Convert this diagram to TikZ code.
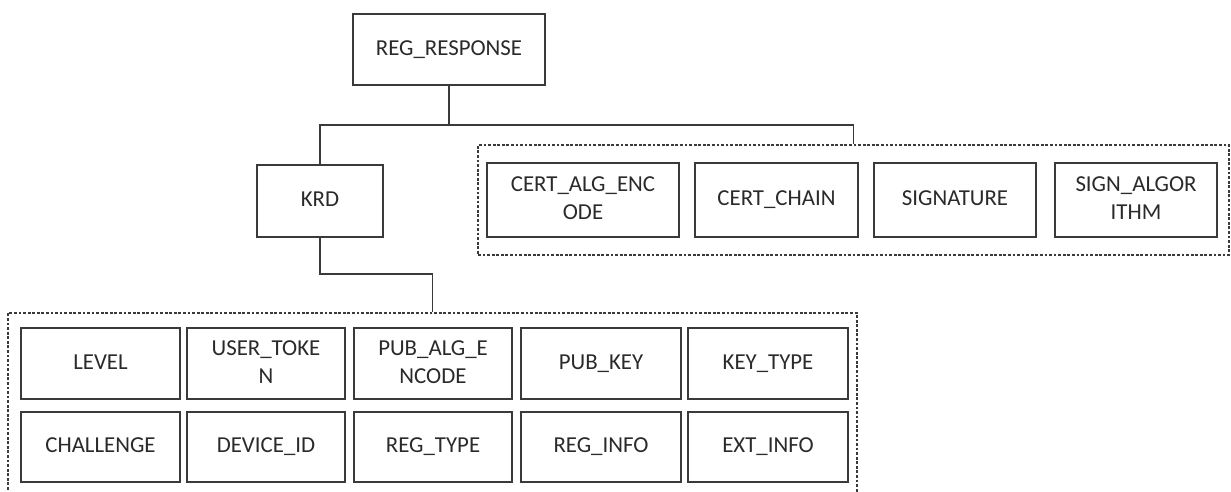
\documentclass[tikz,border=0pt]{standalone}
\usepackage{fontspec}
\setmainfont{Carlito}
\definecolor{boxgray}{HTML}{3A3A3A}
\definecolor{textgray}{HTML}{2A2A2A}
\begin{document}
\begin{tikzpicture}[x=0.02cm,y=-0.02cm,
  field/.style={draw=boxgray,line width=1.1pt,fill=white,align=center,
    inner sep=0pt,text=textgray,font=\fontsize{13}{16}\selectfont},
  group/.style={draw=boxgray,line width=0.9pt,dash pattern=on 1.6pt off 1pt,
    inner sep=0pt},
  link/.style={draw=boxgray,line width=1.1pt}]
\useasboundingbox (0,0) rectangle (1231,492);
\fill[white] (0,0) rectangle (1231,492);
\clip (0,0) rectangle (1231,492);

% root and key record
\node[field,minimum width=3.84cm,minimum height=1.42cm] (reg) at (449,49.5) {\strut REG\_RESPONSE};
\node[field,minimum width=2.52cm,minimum height=1.44cm] (krd) at (320,201) {\strut KRD};

% certificate / signature group
\node[group,minimum width=15.02cm,minimum height=2.2cm] (certs) at (853.5,200) {};
\node[field,minimum width=3.84cm,minimum height=1.48cm] (certalg) at (583,200) {\strut CERT\_ALG\_ENC\\\strut ODE};
\node[field,minimum width=3.26cm,minimum height=1.48cm] (certchain) at (776.5,200) {\strut CERT\_CHAIN};
\node[field,minimum width=3.24cm,minimum height=1.48cm] (signature) at (955,200) {\strut SIGNATURE};
\node[field,minimum width=3.24cm,minimum height=1.48cm] (signalg) at (1136,200) {\strut SIGN\_ALGOR\\\strut ITHM};

% key record fields group
\node[group,minimum width=16.98cm,minimum height=3.68cm] (fields) at (432.5,405) {};
\node[field,minimum width=3.18cm,minimum height=1.42cm] (level) at (100.5,363.5) {\strut LEVEL};
\node[field,minimum width=3.16cm,minimum height=1.42cm] (usertoken) at (266,363.5) {\strut USER\_TOKE\\\strut N};
\node[field,minimum width=3.16cm,minimum height=1.42cm] (pubalg) at (433,363.5) {\strut PUB\_ALG\_E\\\strut NCODE};
\node[field,minimum width=3.20cm,minimum height=1.42cm] (pubkey) at (601,363.5) {\strut PUB\_KEY};
\node[field,minimum width=3.20cm,minimum height=1.42cm] (keytype) at (768,363.5) {\strut KEY\_TYPE};
\node[field,minimum width=3.18cm,minimum height=1.40cm] (challenge) at (100.5,447) {\strut CHALLENGE};
\node[field,minimum width=3.16cm,minimum height=1.40cm] (deviceid) at (266,447) {\strut DEVICE\_ID};
\node[field,minimum width=3.16cm,minimum height=1.40cm] (regtype) at (433,447) {\strut REG\_TYPE};
\node[field,minimum width=3.20cm,minimum height=1.40cm] (reginfo) at (601,447) {\strut REG\_INFO};
\node[field,minimum width=3.20cm,minimum height=1.40cm] (extinfo) at (768,447) {\strut EXT\_INFO};

% connectors
\coordinate (bus) at (449,125);
\coordinate (elbow) at (320,274);
\draw[link] (reg.south) -- (bus);
\draw[link] (krd.north) |- (bus) -| (certs.north);
\draw[link] (krd.south) -- (elbow) -| (fields.north);
\end{tikzpicture}
\end{document}
